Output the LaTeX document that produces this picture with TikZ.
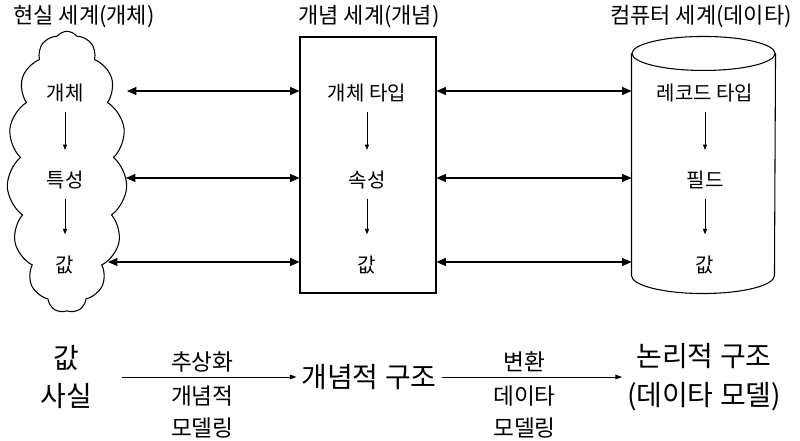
\documentclass[tikz,border=0pt]{standalone}
\usepackage{fontspec}
\setmainfont{Noto Sans CJK KR}
\usetikzlibrary{arrows.meta,shapes.symbols,positioning}
\tikzset{
  world/.style={font=\fontsize{16.5}{19}\selectfont},
  item/.style={font=\fontsize{15}{18}\selectfont},
  link/.style={{Triangle[length=7pt,width=6pt]}-{Triangle[length=7pt,width=6pt]},line width=0.8pt},
  down/.style={-{Triangle[length=4pt,width=3pt]},line width=0.7pt},
  flow/.style={-{Triangle[length=5pt,width=3.5pt]},line width=0.7pt},
  big/.style={font=\fontsize{21}{29}\selectfont,align=center},
  small/.style={font=\fontsize{17}{24}\selectfont,align=center}
}

\begin{document}
\begin{tikzpicture}[x=0.75pt,y=0.75pt,line width=0.8pt]
  \useasboundingbox (0,0) rectangle (800,-441);

  % titles
  \node[world] (realt) at (84,-17) {현실 세계(개체)};
  \node[world] (conct) at (369,-17) {개념 세계(개념)};
  \node[world] (compt) at (701,-17) {컴퓨터 세계(데이타)};

  % the three worlds
  \node[cloud,draw,cloud puffs=15,cloud puff arc=105,cloud ignores aspect,
        minimum width=90pt,minimum height=211pt] (cloud) at (67,-172) {};
  \node[draw,minimum width=102pt,minimum height=192pt] (box) at (368,-165) {};
  \node[minimum width=107.25pt,minimum height=165.75pt,inner sep=0pt] (cyl) at (703.5,-164.5) {};
  \draw (cyl.north west) -- (cyl.south west)
        arc[start angle=180,end angle=360,x radius=53.625pt,y radius=13.5pt]
        -- (cyl.north east);
  \draw (cyl.north) ellipse[x radius=53.625pt,y radius=12.75pt];

  % real world
  \node[item] (ent) at (65,-93) {개체};
  \node[item] (prop) at (65,-180) {특성};
  \node[item] (rval) at (65,-265) {값};
  \draw[down] ([yshift=-14pt]ent.center) -- ([yshift=22.5pt]prop.center);
  \draw[down] ([yshift=-14pt]prop.center) -- ([yshift=23pt]rval.center);

  % concept world
  \node[item] (etype) at (367,-93) {개체 타입};
  \node[item] (attr) at (367,-180) {속성};
  \node[item] (cval) at (367,-265) {값};
  \draw[down] ([yshift=-14pt]etype.center) -- ([yshift=22.5pt]attr.center);
  \draw[down] ([yshift=-14pt]attr.center) -- ([yshift=23pt]cval.center);

  % computer world
  \node[item] (rtype) at (705,-93) {레코드 타입};
  \node[item] (field) at (705,-180) {필드};
  \node[item] (dval) at (705,-265) {값};
  \draw[down] ([yshift=-14pt]rtype.center) -- ([yshift=22.5pt]field.center);
  \draw[down] ([yshift=-14pt]field.center) -- ([yshift=23pt]dval.center);

  % mappings
  \coordinate (ce1) at (127,-91);
  \coordinate (ce2) at (126,-178);
  \coordinate (ce3) at (108,-262);
  \draw[link] (ce1) -- (box.west |- ce1);
  \draw[link] (ce2) -- (box.west |- ce2);
  \draw[link] (ce3) -- (box.west |- ce3);
  \draw[link] (box.east |- ce1) -- (cyl.west |- ce1);
  \draw[link] (box.east |- ce2) -- (cyl.west |- ce2);
  \draw[link] (box.east |- ce3) -- (cyl.west |- ce3);

  % modelling steps
  \node[big] (fact) at (66,-377) {값\\사실};
  \node[big] (concept) at (369,-377) {개념적 구조};
  \node[big] (logic) at (704,-377) {논리적 구조\\(데이타 모델)};
  \draw[flow] ([xshift=19pt]fact.east) -- (concept.west)
    node[small,pos=0.46,above] (abst) {추상화}
    node[small,pos=0.46,below=3pt] (cmod) {개념적\\모델링};
  \draw[flow] (concept.east) -- (logic.west |- concept.east)
    node[small,pos=0.46,above] (trans) {변환}
    node[small,pos=0.46,below=3pt] (dmod) {데이타\\모델링};
\end{tikzpicture}
\end{document}
